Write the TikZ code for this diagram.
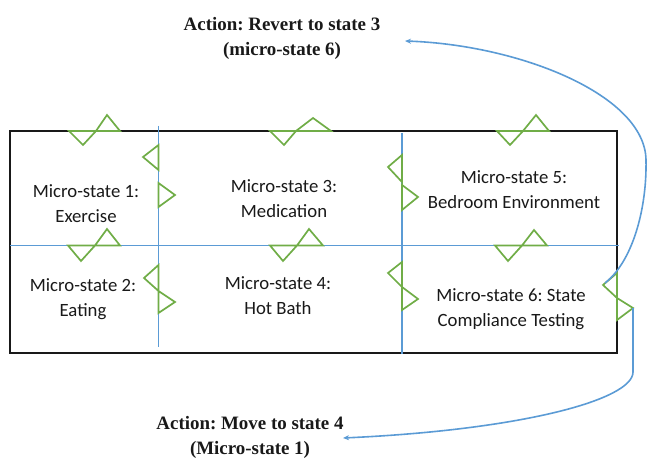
\documentclass[tikz,border=0pt]{standalone}
\usepackage{fontspec}
\setmainfont{Carlito}
\newfontfamily\actfont{Liberation Serif}
\usetikzlibrary{arrows.meta}
\frenchspacing
\definecolor{edgeblue}{RGB}{91,155,213}
\definecolor{markgreen}{RGB}{112,173,71}
\tikzset{
  frame/.style={draw=black!90, line width=1.6bp},
  divider/.style={draw=edgeblue, line width=1.6bp},
  marker/.style={draw=markgreen, line width=1.7bp, line join=miter},
  celltext/.style={align=center, inner sep=0pt, font=\fontsize{18.8}{25}\selectfont, text=black!90},
  acttext/.style={align=center, inner sep=0pt, font=\actfont\bfseries\fontsize{19}{25}\selectfont, text=black!90},
  actarrow/.style={draw=edgeblue, line width=1.6bp, -{Stealth[length=6bp,width=5bp]}}
}
\begin{document}
\begin{tikzpicture}[x=1bp,y=-1bp]
\useasboundingbox (0,0) rectangle (648,459);
% frame and dividers
\draw[frame] (10,131) rectangle (617,353);
\draw[divider] (10,245.5) -- (619,245.5);
\draw[divider] (158.5,126) -- (158.5,347);
\draw[divider] (402,133) -- (402,354);
% horizontal markers
\draw[marker] (69,131) -- (83,145) -- (96,131) -- cycle (96,131) -- (107,115) -- (120,131) -- cycle;
\draw[marker] (270,131) -- (284,145) -- (296,131) -- cycle (296,131) -- (313,118) -- (331,131) -- cycle;
\draw[marker] (497,131) -- (510,145) -- (523,131) -- cycle (523,131) -- (536,115) -- (549,131) -- cycle;
\draw[marker] (68,245.5) -- (81,261) -- (95,245.5) -- cycle (95,245.5) -- (107,229) -- (120,245.5) -- cycle;
\draw[marker] (270,245.5) -- (283,261) -- (297,245.5) -- cycle (297,245.5) -- (309,229) -- (323,245.5) -- cycle;
\draw[marker] (495,245.5) -- (508,261) -- (522,245.5) -- cycle (522,245.5) -- (534,230) -- (547,245.5) -- cycle;
% vertical markers
\draw[marker] (158.5,145) -- (143,157) -- (158.5,170) -- cycle (158.5,183) -- (175,195) -- (158.5,207) -- cycle;
\draw[marker] (158.5,265) -- (144,278) -- (158.5,291) -- cycle (158.5,291) -- (175,302) -- (158.5,313) -- cycle;
\draw[marker] (402,155) -- (388,167) -- (402,182) -- cycle (402,185) -- (418,197) -- (402,210) -- cycle;
\draw[marker] (402,262) -- (388,273) -- (402,287) -- cycle (402,287) -- (418,299) -- (402,310) -- cycle;
\draw[marker] (617,273) -- (603,285) -- (617,298) -- cycle (617,298) -- (633,308) -- (617,320) -- cycle;
% cell texts
\node[celltext] (ms1) at (86,203.5) {Micro-state 1:\\Exercise};
\node[celltext] (ms2) at (83,299) {Micro-state 2:\\Eating};
\node[celltext] (ms3) at (284,199) {Micro-state 3:\\Medication};
\node[celltext] (ms4) at (278,295.5) {Micro-state 4:\\Hot Bath};
\node[celltext] (ms5) at (514,189.5) {Micro-state 5:\\Bedroom Environment};
\node[celltext] (ms6) at (511,309.5) {Micro-state 6: State\\Compliance Testing};
% action texts
\node[acttext] (revert) at (282,38.8) {Action: Revert to state 3\\(micro-state 6)};
\node[acttext] (move) at (250,437.7) {Action: Move to state 4\\(Micro-state 1)};
% connector end points
\coordinate (revStart) at (605,283);
\coordinate (revEnd) at (405,41);
\coordinate (movStart) at (633,308);
\coordinate (movEnd) at (343,438);
\draw[actarrow] (revStart) .. controls (632,262) and (647,210) .. (646,160)
  .. controls (645,95) and (520,45) .. (revEnd);
\draw[actarrow] (movStart) -- (633,372) .. controls (633,400) and (520,430) .. (movEnd);
\end{tikzpicture}
\end{document}
